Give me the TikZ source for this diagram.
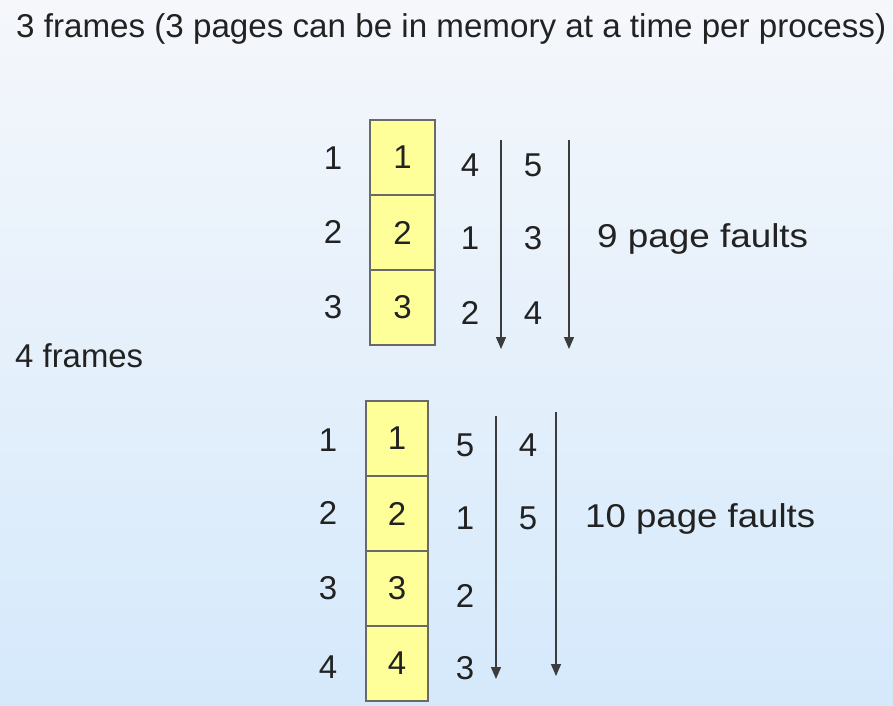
\documentclass[tikz,border=0pt]{standalone}
\usepackage{fontspec}
\usepackage{graphicx}
\setmainfont{Liberation Sans}
\usetikzlibrary{arrows.meta}
\definecolor{bgtop}{RGB}{245,247,251}
\definecolor{bgbot}{RGB}{213,233,251}
\definecolor{cellfill}{RGB}{255,255,153}
\definecolor{cellline}{RGB}{105,105,105}
\definecolor{txt}{RGB}{34,34,34}
\definecolor{arr}{RGB}{60,60,60}
\begin{document}
\begin{tikzpicture}[x=1pt,y=-1pt,
  lbl/.style={font=\fontsize{33}{36}\selectfont, text=txt, inner sep=0pt},
  cellA/.style={draw=cellline, fill=cellfill, line width=1.3pt, minimum width=65pt, minimum height=75pt, inner sep=0pt, font=\fontsize{33}{36}\selectfont, text=txt},
  cellB/.style={cellA, minimum width=62pt},
  refarrow/.style={draw=arr, line width=1.3pt, -{Triangle[width=10pt,length=12pt]}}]
\shade[top color=bgtop, bottom color=bgbot] (0,0) rectangle (893,705);
\useasboundingbox (0,0) rectangle (893,705);

% titles
\node[lbl, anchor=base west] (title) at (16,37) {\resizebox{870pt}{\height}{3 frames (3 pages can be in memory at a time per process)}};
\node[lbl, anchor=base west] (four) at (15,367) {\resizebox{128pt}{\height}{4 frames}};

% ---- top group (3 frames)
\node[cellA] (c31) at (402.5,157.5) {1};
\node[cellA] (c32) at (402.5,232.5) {2};
\node[cellA] (c33) at (402.5,307.5) {3};
\node[lbl] (l31) at (333,158) {1};
\node[lbl] (l32) at (333,232) {2};
\node[lbl] (l33) at (333,307) {3};
\node[lbl] (a31) at (470,165) {4};
\node[lbl] (a32) at (470,238) {1};
\node[lbl] (a33) at (470,313) {2};
\node[lbl] (b31) at (533,165) {5};
\node[lbl] (b32) at (533,238) {3};
\node[lbl] (b33) at (533,313) {4};
\coordinate (p1s) at (501,140); \coordinate (p1e) at (501,349);
\coordinate (p2s) at (569,140); \coordinate (p2e) at (569,349);
\draw[refarrow] (p1s) -- (p1e);
\draw[refarrow] (p2s) -- (p2e);
\node[lbl, anchor=base west] (pf9) at (597,247) {\resizebox{211pt}{\height}{9 page faults}};

% ---- bottom group (4 frames)
\node[cellB] (c41) at (397,438.5) {1};
\node[cellB] (c42) at (397,513.5) {2};
\node[cellB] (c43) at (397,588.5) {3};
\node[cellB] (c44) at (397,663.5) {4};
\node[lbl] (l41) at (328,440) {1};
\node[lbl] (l42) at (328,513) {2};
\node[lbl] (l43) at (328,588) {3};
\node[lbl] (l44) at (328,667) {4};
\node[lbl] (a41) at (465,445) {5};
\node[lbl] (a42) at (465,518) {1};
\node[lbl] (a43) at (465,596) {2};
\node[lbl] (a44) at (465,668) {3};
\node[lbl] (b41) at (528,445) {4};
\node[lbl] (b42) at (528,518) {5};
\coordinate (q1s) at (496,416); \coordinate (q1e) at (496,679);
\coordinate (q2s) at (556,412); \coordinate (q2e) at (556,676);
\draw[refarrow] (q1s) -- (q1e);
\draw[refarrow] (q2s) -- (q2e);
\node[lbl, anchor=base west] (pf10) at (585,527) {\resizebox{230pt}{\height}{10 page faults}};
\end{tikzpicture}
\end{document}
